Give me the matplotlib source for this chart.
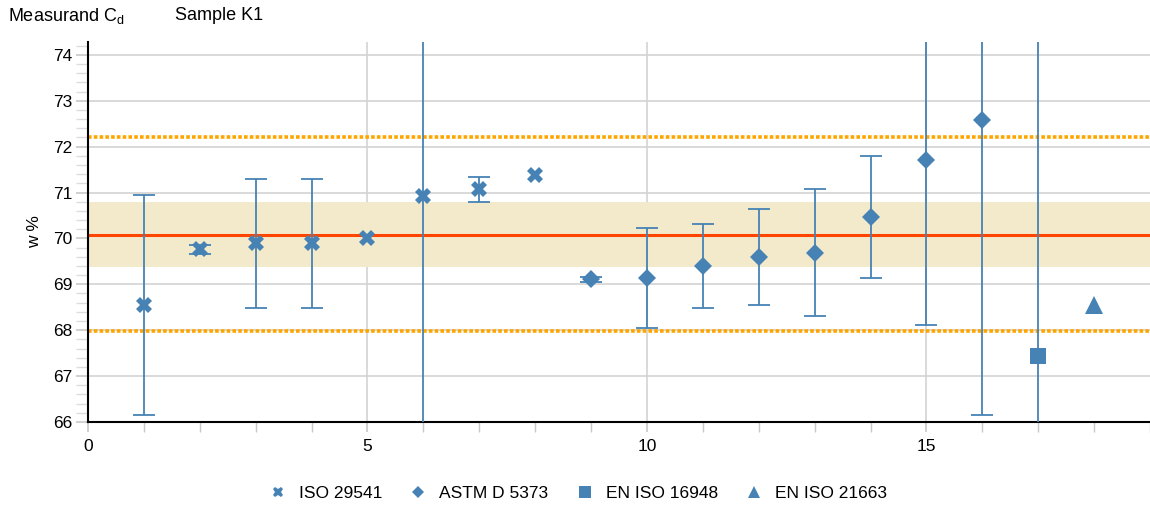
import numpy as np
import matplotlib
matplotlib.use("Agg")
import matplotlib.pyplot as plt
from matplotlib.ticker import MultipleLocator

plt.rcParams['font.family'] = ['Liberation Sans', 'DejaVu Sans']

# lab results per method: lab index, value, expanded uncertainty
iso_x = [1, 2, 3, 4, 5, 6, 7, 8]
iso_y = [68.55, 69.76, 69.89, 69.89, 70.0, 70.92, 71.07, 71.38]
iso_err = [2.39, 0.09, 1.41, 1.41, 0.0, 9.0, 0.27, 0.0]

astm_x = [9, 10, 11, 12, 13, 14, 15, 16]
astm_y = [69.11, 69.13, 69.40, 69.60, 69.69, 70.47, 71.70, 72.57]
astm_err = [0.05, 1.09, 0.91, 1.04, 1.38, 1.33, 3.58, 6.42]

en16948_x = [17]
en16948_y = [67.44]
en16948_err = [9.0]

en21663_x = [18]
en21663_y = [68.56]
en21663_err = [0.0]

assigned = 70.07
band_lo, band_hi = 69.38, 70.79
limit_lo, limit_hi = 67.98, 72.2

blue = '#4682B4'

fig = plt.figure(figsize=(11.5, 5.08), dpi=100)
ax = fig.add_axes([88 / 1150, 86 / 508, 1 - 88 / 1150, (422 - 42) / 508])

ax.axhspan(band_lo, band_hi, color='#F3EACB', zorder=1, lw=0)
ax.axhline(assigned, color='#FF4500', lw=2.2, zorder=2)
ax.axhline(limit_lo, color='#FFA500', lw=2.6, ls=(0, (1, 0.6)), zorder=2)
ax.axhline(limit_hi, color='#FFA500', lw=2.6, ls=(0, (1, 0.6)), zorder=2)

series = [
    (iso_x, iso_y, iso_err, 'X', 11, 'ISO 29541'),
    (astm_x, astm_y, astm_err, 'D', 9, 'ASTM D 5373'),
    (en16948_x, en16948_y, en16948_err, 's', 11.5, 'EN ISO 16948'),
    (en21663_x, en21663_y, en21663_err, '^', 12.5, 'EN ISO 21663'),
]
handles = []
for xs, ys, errs, mk, ms, label in series:
    for x, y, e in zip(xs, ys, errs):
        if e > 0:
            ax.errorbar([x], [y], yerr=[e], fmt='none', ecolor=blue,
                        elinewidth=1.3, capsize=8, capthick=1.3, zorder=3)
    h = ax.plot(xs, ys, ls='none', marker=mk, ms=ms, color=blue,
                markeredgewidth=0, zorder=4, label=label)[0]
    handles.append(h)

ax.set_xlim(0, 19)
ax.set_ylim(66, 74.28)
ax.xaxis.set_major_locator(MultipleLocator(5))
ax.xaxis.set_minor_locator(MultipleLocator(1))
ax.yaxis.set_major_locator(MultipleLocator(1))
ax.yaxis.set_minor_locator(MultipleLocator(0.2))

ax.grid(True, which='major', color='#D3D3D3', lw=1.2, zorder=0)
ax.set_axisbelow(True)
for s in ['top', 'right']:
    ax.spines[s].set_visible(False)
ax.spines['left'].set_linewidth(1.5)
ax.spines['bottom'].set_linewidth(1.5)

ax.tick_params(axis='y', which='major', length=9, color='#C8C8C8', width=1.2,
               labelsize=12.5, pad=2)
ax.tick_params(axis='y', which='minor', length=9, color='#DCDCDC', width=1.0)
ax.tick_params(axis='x', which='major', length=7, color='#C8C8C8', width=1.2,
               labelsize=12.5, pad=5)
ax.tick_params(axis='x', which='minor', length=7, color='#C8C8C8', width=1.0)

ax.set_ylabel('w %', fontsize=12.5, labelpad=8)

fig.text(8 / 1150, 1 - 16 / 508, 'Measurand C$_\\mathregular{d}$', fontsize=13, va='center')
fig.text(175 / 1150, 1 - 16 / 508, 'Sample K1', fontsize=13, va='center')

fig.legend(handles=handles, loc='center', bbox_to_anchor=(578 / 1150, 1 - 493 / 508),
           ncol=4, frameon=False, fontsize=12.5, handlelength=1.0, handletextpad=0.7,
           columnspacing=1.6, markerscale=0.7)

fig.savefig('out.png', dpi=100)
